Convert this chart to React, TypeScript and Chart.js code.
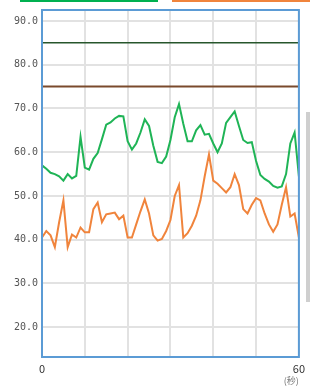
import React, { useEffect, useRef } from "react";
import { Chart, registerables } from "chart.js";

Chart.register(...registerables);

const greenValues = [
  57.0, 56.2, 55.3, 55.0, 54.5, 53.5, 55.0, 54.0, 54.6, 63.5,
  56.5, 56.0, 58.5, 59.8, 63.0, 66.3, 66.8, 67.7, 68.3, 68.2,
  62.5, 60.6, 62.0, 64.5, 67.5, 66.0, 61.5, 57.8, 57.5, 59.0,
  62.8, 68.0, 71.0, 66.5, 62.5, 62.5, 65.0, 66.2, 64.0, 64.2,
  62.0, 60.0, 62.0, 66.7, 68.0, 69.3, 66.0, 62.8, 62.1, 62.3,
  58.0, 54.8, 53.9, 53.3, 52.3, 51.9, 52.2, 55.0, 62.0, 64.5,
  54.5,
];

const orangeValues = [
  40.5, 42.0, 41.0, 38.3, 44.0, 49.0, 38.3, 41.2, 40.5, 42.8,
  41.7, 41.7, 47.0, 48.5, 44.0, 45.8, 46.0, 46.2, 44.7, 45.5,
  40.5, 40.5, 43.5, 46.5, 49.2, 46.0, 41.0, 39.8, 40.2, 42.0,
  44.5, 50.0, 52.5, 40.5, 41.5, 43.2, 45.5, 49.0, 54.5, 59.5,
  53.5, 52.8, 51.8, 50.8, 52.0, 55.0, 52.5, 47.0, 46.0, 48.0,
  49.5, 49.0, 46.0, 43.5, 41.8, 43.5, 48.0, 52.0, 45.3, 46.0,
  40.5,
];

const upperLimit = 85;
const lowerLimit = 75;
const xRange = [0, 60];
const yTicks = [20, 30, 40, 50, 60, 70, 80, 90];
const xLabelsShown = [0, 60];
const xTitle = "(秒)";

const framePlugin = {
  id: "frame",
  afterDraw(chart: any) {
    const { ctx, chartArea } = chart;
    ctx.save();
    ctx.strokeStyle = "#5b9bd5";
    ctx.lineWidth = 2;
    ctx.strokeRect(chartArea.left, chartArea.top, chartArea.right - chartArea.left, chartArea.bottom - chartArea.top);
    // cropped legend swatches at top
    ctx.fillStyle = "#00b050";
    ctx.fillRect(20, 0, 138, 2);
    ctx.fillStyle = "#f0843c";
    ctx.fillRect(172, 0, 138, 2);
    // scrollbar remnant
    ctx.fillStyle = "#cfcfcf";
    ctx.fillRect(306, 112, 4, 190);
    ctx.restore();
  },
};

export default function App() {
  const ref = useRef<HTMLCanvasElement>(null);
  useEffect(() => {
    document.body.style.margin = "0";
    const canvas = ref.current!;
    const chart = new Chart(canvas, {
      type: "line",
      data: {
        datasets: [
          {
            data: xRange.map((x) => ({ x, y: upperLimit })),
            borderColor: "#27562c",
            borderWidth: 1.5,
            pointRadius: 0,
          },
          {
            data: xRange.map((x) => ({ x, y: lowerLimit })),
            borderColor: "#7a4a2c",
            borderWidth: 2,
            pointRadius: 0,
          },
          {
            data: greenValues.map((y, i) => ({ x: i, y })),
            borderColor: "#1fb456",
            borderWidth: 2,
            pointRadius: 0,
          },
          {
            data: orangeValues.map((y, i) => ({ x: i, y })),
            borderColor: "#f0843c",
            borderWidth: 2,
            pointRadius: 0,
          },
        ],
      },
      options: {
        animation: false,
        responsive: false,
        layout: { padding: { top: 8, right: 6, left: 0, bottom: 0 } },
        plugins: { legend: { display: false }, tooltip: { enabled: false } },
        scales: {
          x: {
            type: "linear",
            min: xRange[0],
            max: xRange[1],
            grid: { color: "#e2e2e2", lineWidth: 2, drawTicks: false },
            border: { display: false },
            ticks: {
              stepSize: 10,
              padding: 5,
              maxRotation: 0,
              autoSkip: false,
              color: "#333",
              font: { family: "Noto Sans CJK JP", size: 11 },
              callback: (v: any) => (xLabelsShown.includes(v) ? String(v) : ""),
            },
            title: {
              display: true,
              text: xTitle,
              align: "end",
              color: "#777",
              padding: { top: -2, bottom: 0 },
              font: { family: "Noto Sans CJK JP", size: 9 },
            },
            afterFit: (s: any) => {
              s.height = 29;
            },
          },
          y: {
            type: "linear",
            min: 13.2,
            max: 92.5,
            afterBuildTicks: (s: any) => {
              s.ticks = yTicks.map((value) => ({ value }));
            },
            grid: { color: "#e2e2e2", lineWidth: 2, drawTicks: false },
            border: { display: false },
            ticks: {
              padding: 4,
              color: "#555",
              font: { family: "DejaVu Sans Mono", size: 10 },
              callback: (v: any) => Number(v).toFixed(1),
            },
            afterFit: (s: any) => {
              s.width = 42;
            },
          },
        },
      },
      plugins: [framePlugin],
    });
    return () => chart.destroy();
  }, []);
  return <canvas ref={ref} width={310} height={386} style={{ display: "block" }} />;
}
